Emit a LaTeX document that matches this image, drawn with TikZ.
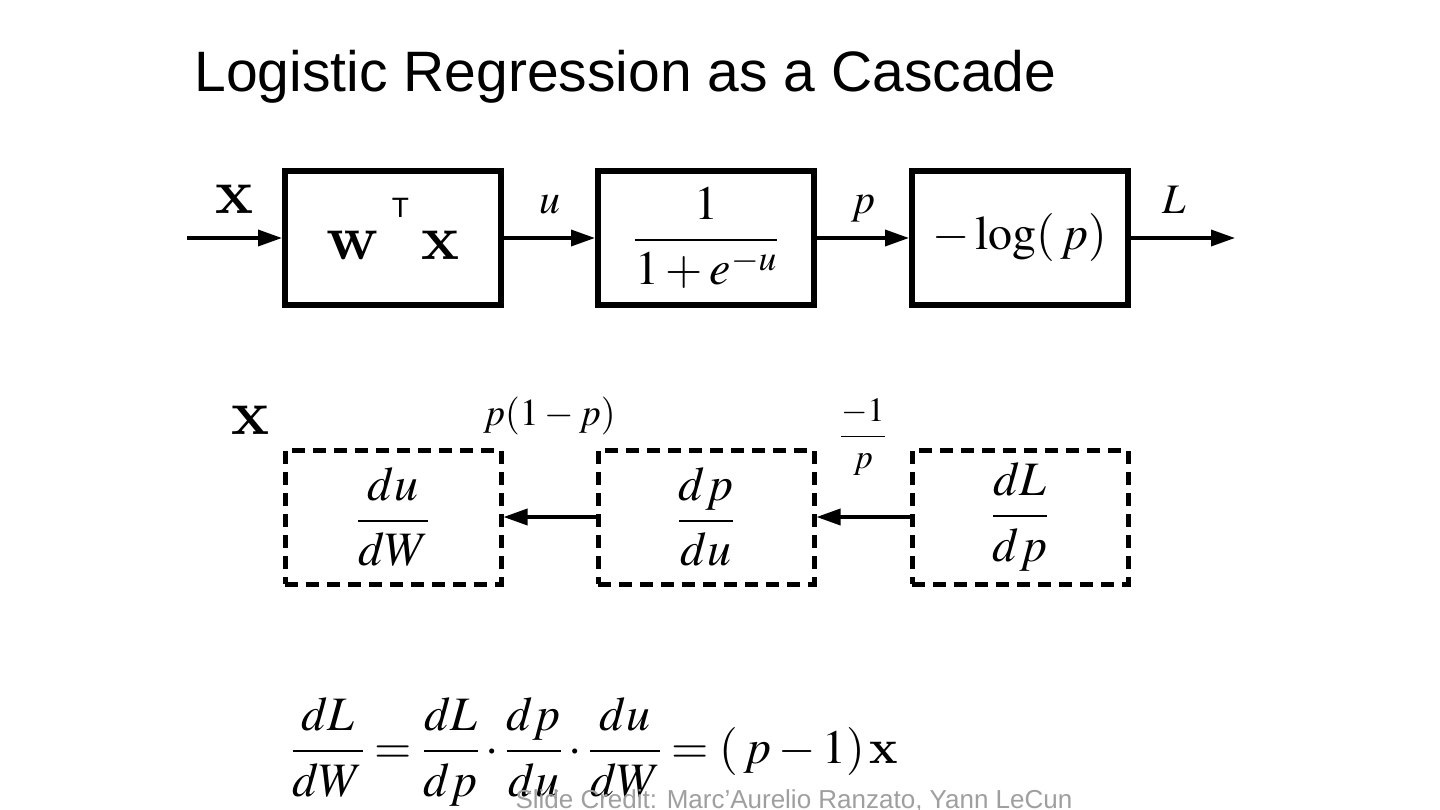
\RequirePackage{fix-cm}
\documentclass[tikz,border=0pt]{standalone}
\usepackage{mathptmx}
\usepackage{fontspec}
\setsansfont{Liberation Sans}
\usetikzlibrary{arrows.meta}
\DeclareMathAlphabet{\mathbcm}{OT1}{cmr}{bx}{n}
\newcommand{\fs}[1]{\fontsize{#1}{1.2\dimexpr#1pt\relax}\selectfont}

\begin{document}
\begin{tikzpicture}[x=1pt, y=-1pt, >={Triangle[length=24pt,width=16pt]},
  every node/.style={font=\fs{48}},
  block/.style={draw, line width=6pt, minimum width=216pt, minimum height=134pt, inner sep=0pt},
  dblock/.style={block, line width=5pt, dash pattern=on 13pt off 8pt},
  link/.style={->, line width=3.5pt},
  lab/.style={anchor=base, yshift=24pt, font=\fs{42}}]
  \useasboundingbox[fill=white] (0,0) rectangle (1440,810);
  \node[anchor=base west, font=\sffamily\fs{57}] (title) at (191,92) {Logistic Regression as a Cascade};

  % forward pass
  \coordinate (in) at (187,238);
  \node[block, font=\fs{64}] (lin) at (393,238) {\raisebox{-22pt}[0pt][0pt]{$\mathbcm{w}$\hspace{12pt}\raisebox{42pt}{\sffamily\fs{28}T}\hspace{12pt}$\mathbcm{x}$}};
  \node[block] (sig) at (706,238) {$\displaystyle\frac{1}{1+e^{-u}}$};
  \node[block] (nll) at (1020,238) {${-}\log(\,p)$};
  \coordinate (out) at (1235,238);
  \draw[link] (in) -- node[lab, font=\fs{64}] {$\mathbcm{x}$} (lin);
  \draw[link] (lin) -- node[lab] {$u$} (sig);
  \draw[link] (sig) -- node[lab] {$p$} (nll);
  \draw[link] (nll) -- node[lab, xshift=-9pt] {$L$} (out);

  % backward pass
  \node[font=\fs{64}] (xin) at (250,420) {$\mathbcm{x}$};
  \node[dblock] (dw) at (393,517) {$\displaystyle\frac{du}{dW}$};
  \node[dblock] (du) at (706,517) {$\displaystyle\frac{dp}{du}$};
  \node[dblock] (dp) at (1020,517) {$\displaystyle\frac{dL}{dp}$};
  \draw[link] (dp) -- node[yshift=80pt, font=\fs{34}] {$\displaystyle\frac{-1}{p}$} (du);
  \draw[link] (du) -- node[yshift=101pt, font=\fs{38}] {$p(1-p)$} (dw);

  \node (chain) at (595,752) {$\displaystyle\frac{dL}{dW}=\frac{dL}{dp}\cdot\frac{dp}{du}\cdot\frac{du}{dW}=(\,p-1)\,\mathbcm{x}$};
  \node[anchor=base west, text=gray!75, font=\sffamily\fs{26}] (credit) at (512,808) {Slide Credit: Marc'Aurelio Ranzato, Yann LeCun};
\end{tikzpicture}
\end{document}
